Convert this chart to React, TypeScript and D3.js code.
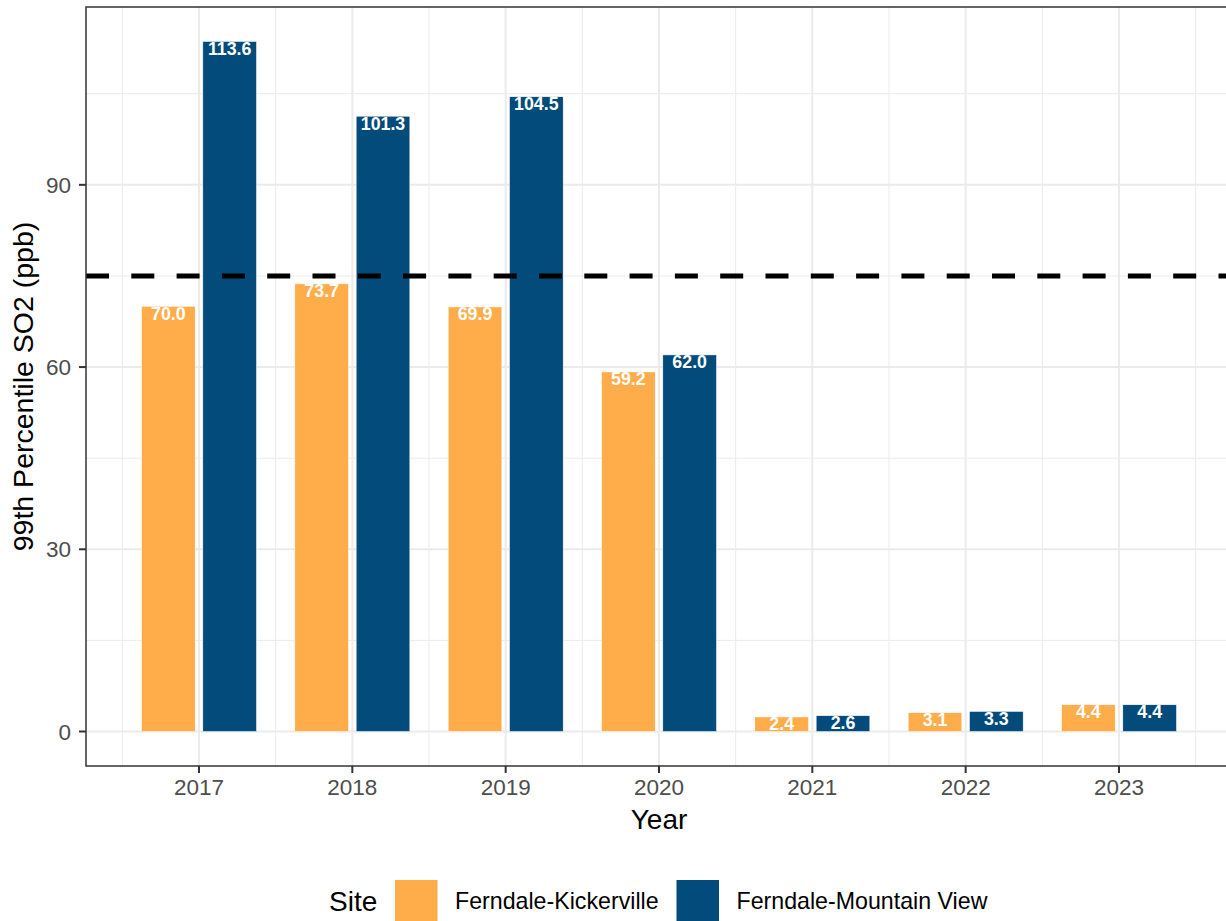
import React from "react";
import * as d3 from "d3";

const years = ["2017", "2018", "2019", "2020", "2021", "2022", "2023"];
const sites = ["Ferndale-Kickerville", "Ferndale-Mountain View"];
const kickerville = [70.0, 73.7, 69.9, 59.2, 2.4, 3.1, 4.4];
const mountainView = [113.6, 101.3, 104.5, 62.0, 2.6, 3.3, 4.4];
const seriesValues = [kickerville, mountainView];
const colors = ["#FFAD4B", "#034B7B"];
const yTicks = [0, 30, 60, 90];
const yMinor = [15, 45, 75, 105];
const standard = 75;

const W = 1226;
const H = 921;
const panel = { left: 86, top: 7, right: 1232, bottom: 766 };
const font = "'Liberation Sans', Arial, sans-serif";

export default function App() {
  const x = d3.scaleLinear().domain([-0.737, years.length - 1 + 0.737]).range([panel.left, panel.right]);
  const y = d3.scaleLinear().domain([-5.68, 119.28]).range([panel.bottom, panel.top]);
  const unit = x(1) - x(0);
  const barW = 0.35 * unit;
  const offsets = [-0.2, 0.2];
  const xMinor = d3.range(years.length + 1).map((i) => i - 0.5);

  return (
    <div style={{ position: "absolute", left: 0, top: 0 }}>
      <svg width={W} height={H} style={{ display: "block", background: "#fff" }} fontFamily={font}>
        <defs>
          <clipPath id="pclip">
            <rect x={panel.left} y={panel.top} width={panel.right - panel.left} height={panel.bottom - panel.top} />
          </clipPath>
        </defs>
        <g clipPath="url(#pclip)">
          {yMinor.map((v) => (
            <line key={"ym" + v} x1={panel.left} x2={panel.right} y1={y(v)} y2={y(v)} stroke="#EBEBEB" strokeWidth={1} />
          ))}
          {xMinor.map((v) => (
            <line key={"xm" + v} x1={x(v)} x2={x(v)} y1={panel.top} y2={panel.bottom} stroke="#EBEBEB" strokeWidth={1} />
          ))}
          {yTicks.map((v) => (
            <line key={"yM" + v} x1={panel.left} x2={panel.right} y1={y(v)} y2={y(v)} stroke="#EBEBEB" strokeWidth={2} />
          ))}
          {years.map((yr, i) => (
            <line key={"xM" + yr} x1={x(i)} x2={x(i)} y1={panel.top} y2={panel.bottom} stroke="#EBEBEB" strokeWidth={2} />
          ))}
          {seriesValues.map((vals, s) =>
            vals.map((v, i) => {
              const cx = x(i + offsets[s]);
              return (
                <rect
                  key={"b" + s + "-" + i}
                  x={cx - barW / 2}
                  y={y(v)}
                  width={barW}
                  height={y(0) - y(v)}
                  fill={colors[s]}
                  stroke="#ffffff"
                  strokeWidth={0.5}
                />
              );
            })
          )}
          {seriesValues.map((vals, s) =>
            vals.map((v, i) => (
              <text
                key={"t" + s + "-" + i}
                x={x(i + offsets[s])}
                y={y(v) + 13.5}
                textAnchor="middle"
                fill="#ffffff"
                fontWeight="bold"
                fontSize={17.8}
              >
                {v.toFixed(1)}
              </text>
            ))
          )}
          <line
            x1={panel.left}
            x2={panel.right}
            y1={y(standard)}
            y2={y(standard)}
            stroke="#000"
            strokeWidth={5}
            strokeDasharray="23 22.3"
          />
        </g>
        <rect
          x={panel.left}
          y={panel.top}
          width={panel.right - panel.left}
          height={panel.bottom - panel.top}
          fill="none"
          stroke="#333333"
          strokeWidth={1.5}
        />
        {years.map((yr, i) => (
          <g key={"xt" + yr}>
            <line x1={x(i)} x2={x(i)} y1={panel.bottom} y2={panel.bottom + 7} stroke="#333333" strokeWidth={2} />
            <text x={x(i)} y={795} textAnchor="middle" fontSize={22.5} fill="#4D4D4D">
              {yr}
            </text>
          </g>
        ))}
        {yTicks.map((v) => (
          <g key={"yt" + v}>
            <line x1={panel.left - 7} x2={panel.left} y1={y(v)} y2={y(v)} stroke="#333333" strokeWidth={2} />
            <text x={71} y={y(v)} dy="0.36em" textAnchor="end" fontSize={22.5} fill="#4D4D4D">
              {v}
            </text>
          </g>
        ))}
        <text
          transform={`translate(33, ${(panel.top + panel.bottom) / 2}) rotate(-90)`}
          textAnchor="middle"
          fontSize={28.5}
          fill="#000"
        >
          99th Percentile SO2 (ppb)
        </text>
        <text x={(panel.left + panel.right) / 2} y={829} textAnchor="middle" fontSize={28} fill="#000">
          Year
        </text>
        <g>
          <text x={329} y={911} fontSize={28} fill="#000">
            Site
          </text>
          {sites.map((s, i) => {
            const sx = [395, 676.5][i];
            return (
              <g key={"lg" + s}>
                <rect x={sx} y={880} width={42.5} height={42} fill={colors[i]} />
                <text x={sx + 60} y={909} fontSize={23.2} fill="#000">
                  {s}
                </text>
              </g>
            );
          })}
        </g>
      </svg>
    </div>
  );
}
